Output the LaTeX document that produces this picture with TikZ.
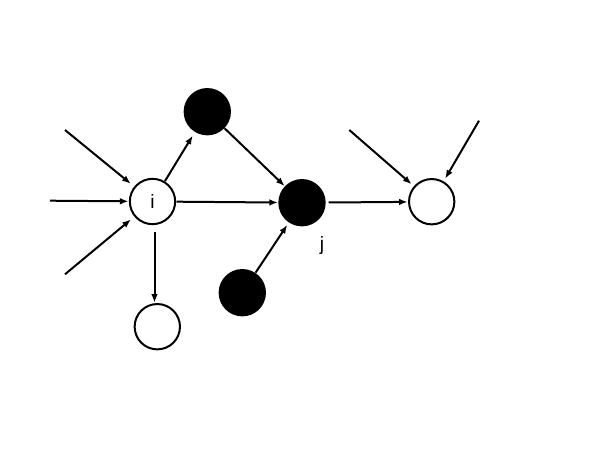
\documentclass[tikz,border=0pt]{standalone}
\usepackage{fontspec}
\setmainfont{Liberation Sans}
\usetikzlibrary{arrows.meta}
\begin{document}
\begin{tikzpicture}[x=0.75pt,y=-0.75pt,
  vtx/.style={circle,draw=black,line width=1.5pt,minimum size=34pt,inner sep=0pt,outer sep=1pt},
  white/.style={vtx,fill=white},
  black/.style={vtx,fill=black},
  arr/.style={line width=1.5pt,-{Latex[length=6.5pt,width=5pt]}},
  lbl/.style={font=\fontsize{14.5}{16}\selectfont}]
\useasboundingbox[fill=white] (0,0) rectangle (599,450);
\node[white,lbl] (i) at (152.5,201.5) {i};
\node[black] (t) at (207.3,111.7) {};
\node[black] (j) at (302,202.7) {};
\node[black] (b) at (242.3,292.7) {};
\node[white] (w) at (157.3,326.7) {};
\node[white] (r) at (431.7,201.7) {};
\node[lbl,anchor=base,inner sep=0pt] (jl) at (322,250.7) {j};
\coordinate (a1) at (65,130);
\coordinate (a2) at (50,200.7);
\coordinate (a3) at (65,274.3);
\coordinate (a4) at (349.3,130);
\coordinate (a5) at (479,120.7);
\draw[arr,shorten >=3pt] (a1) -- (i);
\draw[arr] (a2) -- (i);
\draw[arr,shorten >=3pt] (a3) -- (i);
\draw[arr,shorten >=3pt] (i) -- (t);
\draw[arr] (i) -- (j);
\draw[arr] (t) -- (j);
\draw[arr,shorten <=5pt] ([xshift=1.5pt]i.south) -- ([xshift=1.5pt]i.south |- w.north);
\draw[arr,shorten >=2pt] (b) -- (j);
\draw[arr,shorten <=2pt] (j) -- (r);
\draw[arr,shorten >=2pt] (a4) -- (r);
\draw[arr,shorten >=2pt] (a5) -- (r);
\end{tikzpicture}
\end{document}
